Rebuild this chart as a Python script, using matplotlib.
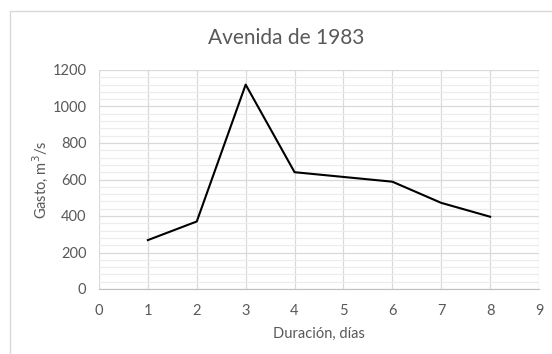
import matplotlib
matplotlib.use("Agg")
import matplotlib.pyplot as plt
from matplotlib.patches import Rectangle
from matplotlib.ticker import MultipleLocator

plt.rcParams['font.family'] = ['Lato', 'DejaVu Sans']

dias = [1, 2, 3, 4, 5, 6, 7, 8]
gasto = [268, 370, 1120, 640, 614, 588, 472, 396]

fig = plt.figure(figsize=(5.52, 3.54), dpi=100)
fig.patches.append(Rectangle((10 / 552, -0.05), 1.0, 1 - 11 / 354 + 0.05,
                             transform=fig.transFigure, fill=False,
                             edgecolor='#d9d9d9', linewidth=1))
ax = fig.add_axes([99 / 552, 1 - 289 / 354, 440 / 552, 219 / 354])

ax.plot(dias, gasto, color='black', linewidth=1.5, zorder=3)

ax.set_xlim(0, 9)
ax.set_ylim(0, 1200)
ax.xaxis.set_major_locator(MultipleLocator(1))
ax.yaxis.set_major_locator(MultipleLocator(200))
ax.yaxis.set_minor_locator(MultipleLocator(40))
ax.grid(which='major', color='#d9d9d9', linewidth=0.9)
ax.grid(which='minor', axis='y', color='#ececec', linewidth=0.8)
ax.set_axisbelow(True)
for s in ['top', 'right', 'left']:
    ax.spines[s].set_visible(False)
ax.spines['bottom'].set_color('#bfbfbf')
ax.tick_params(which='both', length=0, colors='#595959', labelsize=10.5)
ax.tick_params(axis='x', pad=11)
ax.tick_params(axis='y', pad=9)

fig.text(286 / 552, 1 - 38 / 354, 'Avenida de 1983', fontsize=15,
         color='#595959', ha='center', va='center')
ax.set_xlabel('Duración, días', fontsize=10.5, color='#595959', labelpad=6)
ax.set_ylabel('Gasto, m$^3$/s', fontsize=10.5, color='#595959', labelpad=2)

fig.savefig('out.png', dpi=100)
